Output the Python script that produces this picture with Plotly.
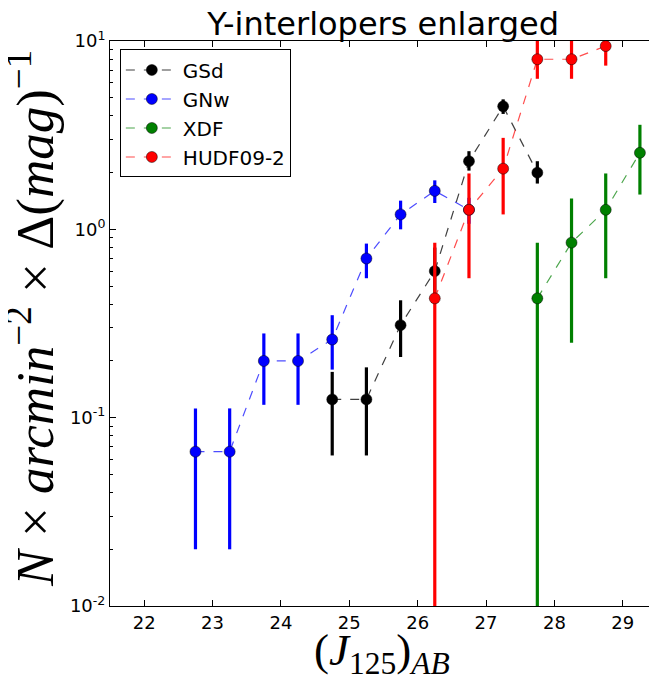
import plotly.graph_objects as go

# ---- data ----
gsd_x = [24.75, 25.25, 25.75, 26.25, 26.75, 27.25, 27.75]
gsd_y = [0.125, 0.125, 0.31, 0.60, 2.3, 4.5, 2.0]
gsd_up = [0.05, 0.06, 0.11, 0.20, 0.30, 0.40, 0.30]
gsd_dn = [0.062, 0.062, 0.10, 0.15, 0.25, 0.40, 0.25]

gnw_x = [22.75, 23.25, 23.75, 24.25, 24.75, 25.25, 25.75, 26.25, 26.75]
gnw_y = [0.066, 0.066, 0.20, 0.20, 0.26, 0.70, 1.2, 1.6, 1.27]
gnw_up = [0.046, 0.046, 0.08, 0.08, 0.09, 0.14, 0.22, 0.22, 0.2]
gnw_dn = [0.046, 0.046, 0.083, 0.083, 0.08, 0.15, 0.2, 0.22, 0.2]

xdf_x = [27.75, 28.25, 28.75, 29.25]
xdf_y = [0.43, 0.85, 1.27, 2.55]
xdf_up = [0.42, 0.61, 0.71, 1.04]
xdf_dn = [0.42999, 0.60, 0.72, 1.02]

hudf_x = [26.25, 26.75, 27.25, 27.75, 28.25, 28.75]
hudf_y = [0.43, 1.27, 2.1, 8.0, 8.0, 9.4]
hudf_up = [0.42, 0.71, 0.96, 3.0, 3.0, 3.0]
hudf_dn = [0.42999, 0.72, 0.90, 1.7, 1.7, 2.0]

series = [
    ("GSd", gsd_x, gsd_y, gsd_up, gsd_dn, "black", "rgba(0,0,0,0.75)"),
    ("GNw", gnw_x, gnw_y, gnw_up, gnw_dn, "blue", "rgba(0,0,255,0.7)"),
    ("XDF", xdf_x, xdf_y, xdf_up, xdf_dn, "green", "rgba(0,128,0,0.7)"),
    ("HUDF09-2", hudf_x, hudf_y, hudf_up, hudf_dn, "red", "rgba(255,0,0,0.7)"),
]

x_ticks = [22, 23, 24, 25, 26, 27, 28, 29]
y_ticks = [0.01, 0.1, 1, 10]
y_ticklabels = ["10<sup>-2</sup>", "10<sup>-1</sup>", "10<sup>0</sup>", "10<sup>1</sup>"]

fig = go.Figure()
for name, xs, ys, up, dn, col, lcol in series:
    fig.add_trace(go.Scatter(
        x=xs, y=ys, name=name, mode="lines+markers",
        line=dict(color=lcol, width=1.2, dash="dash"),
        marker=dict(color=col, size=11, line=dict(color="rgba(0,0,0,0.6)", width=0.8)),
        error_y=dict(type="data", symmetric=False, array=up, arrayminus=dn,
                     color=col, thickness=3.2, width=0),
    ))

font_axis = dict(family="DejaVu Sans", size=18, color="black")
fig.update_layout(
    width=649, height=673,
    margin=dict(l=102, r=0, t=33, b=75),
    paper_bgcolor="white", plot_bgcolor="white",
    title=dict(text="Y-interlopers enlarged", x=0.578, xanchor="center",
               y=0.977, yanchor="middle",
               font=dict(family="DejaVu Sans", size=32, color="black")),
    showlegend=True,
    legend=dict(x=0.018, y=0.985, xanchor="left", yanchor="top",
                bordercolor="black", borderwidth=1, bgcolor="white",
                font=dict(family="DejaVu Sans", size=20, color="black"),
                itemwidth=52, tracegroupgap=0),
    xaxis=dict(range=[21.5, 29.5], tickvals=x_ticks, ticktext=[str(t) for t in x_ticks],
               ticks="inside", ticklen=6, tickcolor="black", showline=True,
               linecolor="black", linewidth=1, mirror="allticks", showgrid=False,
               zeroline=False, tickfont=font_axis, automargin=False),
    yaxis=dict(type="log", range=[-2, 1], tickvals=y_ticks, ticktext=y_ticklabels,
               ticks="inside", ticklen=6, tickcolor="black", showline=True,
               linecolor="black", linewidth=1, mirror="allticks", showgrid=False,
               zeroline=False, tickfont=font_axis, automargin=False,
               minor=dict(ticks="inside", ticklen=3, tickcolor="black", showgrid=False,
                          tickvals=[v * m for v in [0.01, 0.1, 1] for m in range(2, 10)])),
    annotations=[
        dict(text="(<i>J</i><sub>125</sub>)<sub><i>AB</i></sub>", xref="paper", yref="paper",
             x=0.497, y=-0.083, xanchor="center", yanchor="middle", showarrow=False,
             font=dict(family="Liberation Serif", size=45, color="black")),
        dict(text="<i>N</i> × <i>arcmin</i><sup>−2</sup> × Δ(<i>mag</i>)<sup>−1</sup>",
             xref="paper", yref="paper", x=-0.143, y=0.51, xanchor="center", yanchor="middle",
             textangle=-90, showarrow=False,
             font=dict(family="Liberation Serif", size=53, color="black")),
    ],
)

fig.write_html("out.html")
